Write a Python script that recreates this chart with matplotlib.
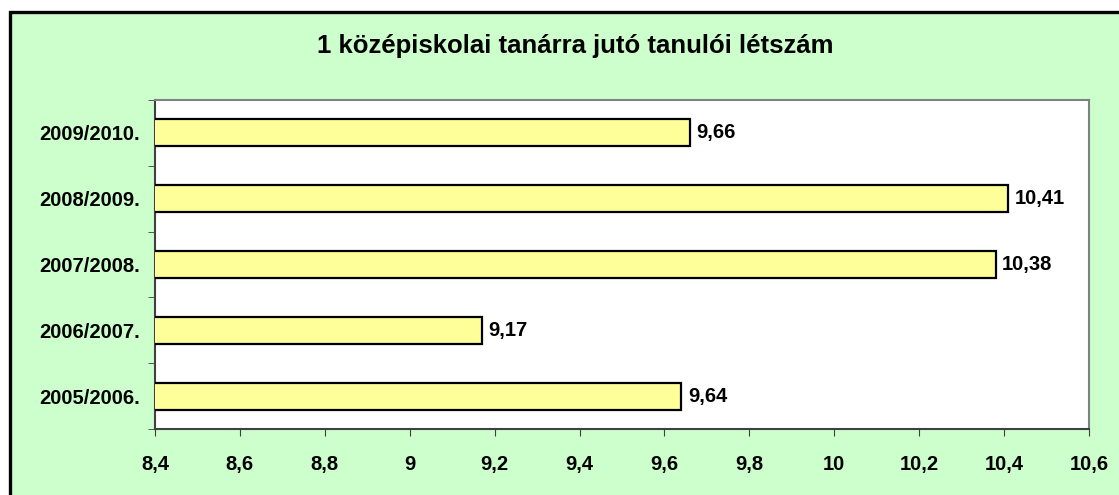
import matplotlib.pyplot as plt
from matplotlib.patches import Rectangle
from matplotlib.ticker import FixedLocator, FuncFormatter

plt.rcParams['font.family'] = ['Liberation Sans', 'DejaVu Sans']

years = ['2005/2006.', '2006/2007.', '2007/2008.', '2008/2009.', '2009/2010.']
ratios = [9.64, 9.17, 10.38, 10.41, 9.66]
x_ticks = [8.4, 8.6, 8.8, 9.0, 9.2, 9.4, 9.6, 9.8, 10.0, 10.2, 10.4, 10.6]
title = '1 középiskolai tanárra jutó tanulói létszám'

W, H = 1119, 495
fig = plt.figure(figsize=(W / 100, H / 100), dpi=100)
fig.patch.set_facecolor('white')

# green chart area with thick black frame (cut off at right and bottom)
fig.patches.append(Rectangle((9.5 / W, -0.2), 1.5, 1.2 - 11.5 / H,
                             transform=fig.transFigure, facecolor='#CCFFCC',
                             edgecolor='black', linewidth=2.4, zorder=-10))

ax = fig.add_axes([155 / W, 1 - 429 / H, 934 / W, 329 / H])
ax.set_facecolor('white')

pos = list(range(len(years)))
ax.barh(pos, ratios, left=0, height=0.41, color='#FFFF99',
        edgecolor='black', linewidth=1.6, zorder=3)

ax.set_xlim(8.4, 10.6)
ax.set_ylim(-0.5, len(years) - 0.5)

def comma(v, p=None):
    s = f'{v:.1f}'.rstrip('0').rstrip('.')
    return s.replace('.', ',')

ax.xaxis.set_major_locator(FixedLocator(x_ticks))
ax.xaxis.set_major_formatter(FuncFormatter(comma))
ax.set_yticks(pos)
ax.set_yticklabels(years)
ax.set_yticks([p - 0.5 for p in range(len(years) + 1)], minor=True)
ax.tick_params(axis='y', which='major', length=0, pad=11)
ax.tick_params(axis='y', which='minor', length=5, direction='out', color='#404040')
ax.tick_params(axis='x', length=5, direction='out', color='#404040', pad=14)

for lab in ax.get_xticklabels() + ax.get_yticklabels():
    lab.set_fontsize(14.5)
    lab.set_fontweight('bold')

for sp in ['top', 'right']:
    ax.spines[sp].set_color('#808080')
    ax.spines[sp].set_linewidth(1.5)
for sp in ['left', 'bottom']:
    ax.spines[sp].set_color('#404040')
    ax.spines[sp].set_linewidth(1.5)

for p, v in zip(pos, ratios):
    ax.text(v + 0.015, p, f'{v:.2f}'.replace('.', ','), va='center', ha='left',
            fontsize=14.5, fontweight='bold', zorder=4)

fig.text(575 / W, 1 - 46 / H, title, ha='center', va='center',
         fontsize=18.5, fontweight='bold')

fig.savefig('out.png', dpi=100)
